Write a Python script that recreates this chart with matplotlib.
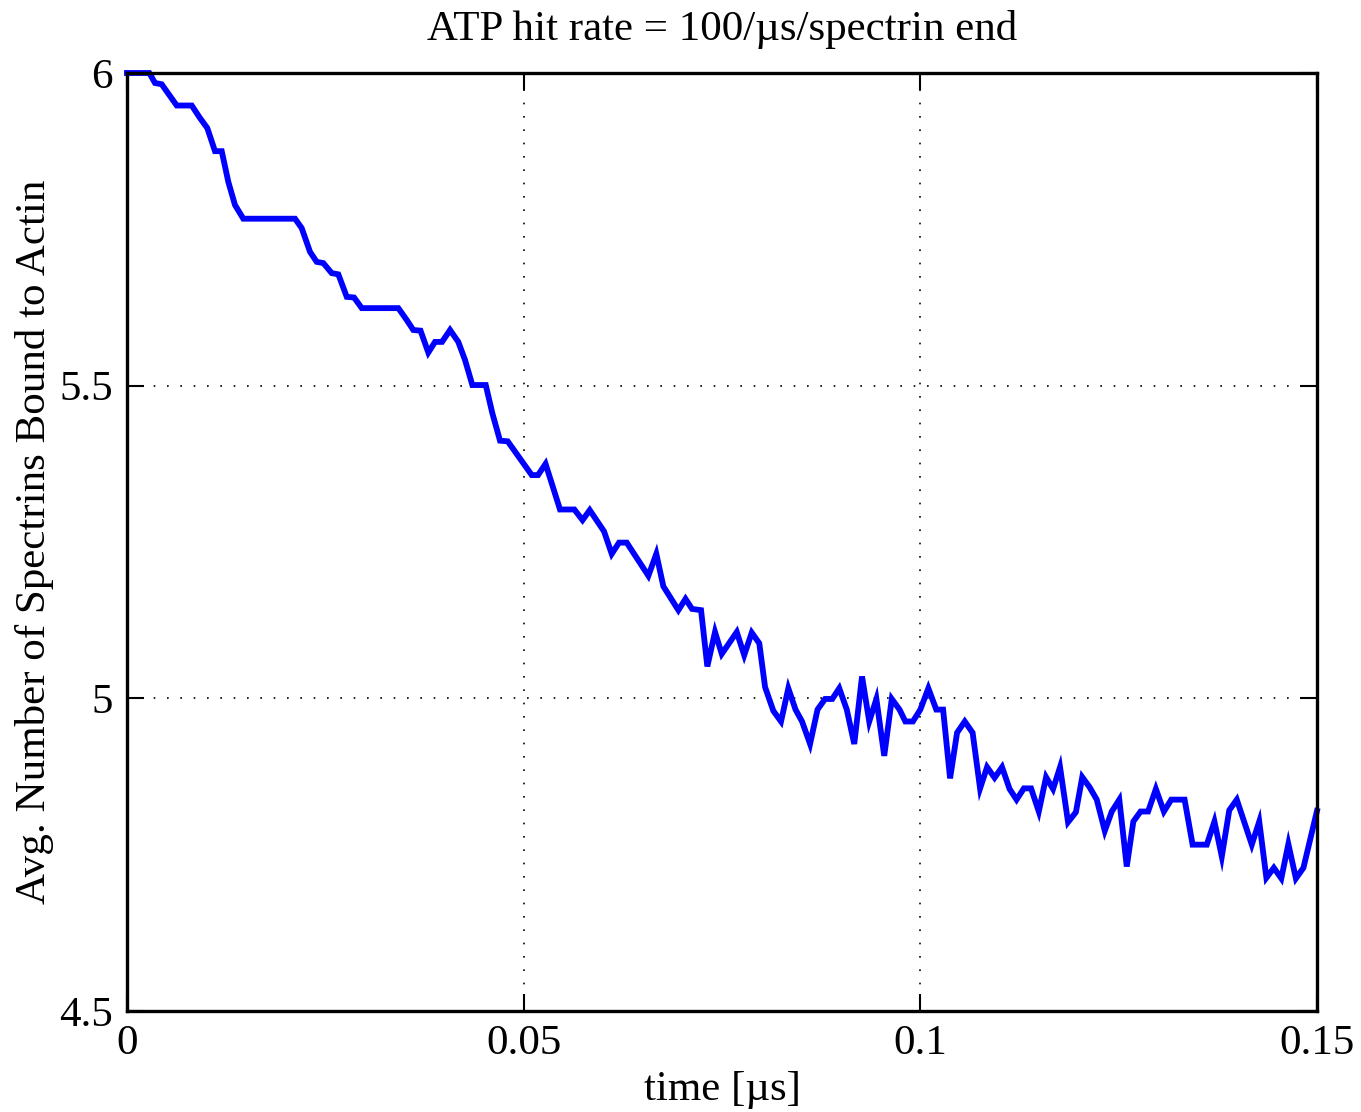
import matplotlib
matplotlib.use("Agg")
import matplotlib.pyplot as plt
import numpy as np

# time [us] and average number of bound spectrins
time_us = [0.0, 0.00281, 0.00353, 0.00437, 0.00627, 0.00816, 0.00920, 0.01012,
           0.01109, 0.01194, 0.01277, 0.01361, 0.01466, 0.02118, 0.02202, 0.02307,
           0.02391, 0.02475, 0.02580, 0.02664, 0.02770, 0.02862, 0.02959, 0.03420,
           0.03526, 0.03609, 0.03700, 0.03798, 0.03883, 0.03971, 0.04072, 0.04176,
           0.04261, 0.04353, 0.04522, 0.04605, 0.04702, 0.04799, 0.05102, 0.05181,
           0.05276, 0.05458, 0.05639, 0.05742, 0.05833, 0.06013, 0.06110, 0.06202,
           0.06299, 0.06572, 0.06672, 0.06761, 0.06950, 0.07040, 0.07122, 0.07236,
           0.07315, 0.07412, 0.07497, 0.07686, 0.07780, 0.07875, 0.07970, 0.08043,
           0.08147, 0.08244, 0.08336, 0.08427, 0.08509, 0.08610, 0.08704, 0.08799,
           0.08890, 0.08978, 0.09073, 0.09167, 0.09265, 0.09356, 0.09446, 0.09545,
           0.09640, 0.09738, 0.09811, 0.09906, 0.10000, 0.10101, 0.10201, 0.10287,
           0.10375, 0.10463, 0.10560, 0.10659, 0.10753, 0.10841, 0.10936, 0.11030,
           0.11125, 0.11213, 0.11305, 0.11396, 0.11493, 0.11585, 0.11673, 0.11761,
           0.11862, 0.11961, 0.12041, 0.12133, 0.12224, 0.12325, 0.12413, 0.12508,
           0.12602, 0.12685, 0.12776, 0.12871, 0.12969, 0.13070, 0.13163, 0.13331,
           0.13432, 0.13611, 0.13707, 0.13800, 0.13894, 0.13989, 0.14178, 0.14272,
           0.14362, 0.14456, 0.14550, 0.14639, 0.14734, 0.14829, 0.15]
n_bound = [6.0, 6.0, 5.984, 5.982, 5.948, 5.948, 5.928, 5.912,
           5.875, 5.875, 5.826, 5.789, 5.767, 5.767, 5.752, 5.714,
           5.698, 5.696, 5.680, 5.678, 5.642, 5.641, 5.624, 5.624,
           5.605, 5.589, 5.588, 5.553, 5.570, 5.570, 5.589, 5.570,
           5.541, 5.501, 5.501, 5.456, 5.412, 5.411, 5.357, 5.357,
           5.375, 5.302, 5.302, 5.285, 5.301, 5.267, 5.231, 5.249,
           5.249, 5.196, 5.231, 5.179, 5.141, 5.159, 5.143, 5.141,
           5.051, 5.106, 5.071, 5.106, 5.069, 5.105, 5.088, 5.018,
           4.980, 4.963, 5.016, 4.982, 4.963, 4.927, 4.982, 4.999,
           4.999, 5.016, 4.982, 4.927, 5.035, 4.963, 4.999, 4.908,
           4.999, 4.982, 4.963, 4.963, 4.982, 5.016, 4.982, 4.982,
           4.872, 4.945, 4.963, 4.945, 4.856, 4.890, 4.873, 4.890,
           4.855, 4.838, 4.856, 4.856, 4.819, 4.874, 4.855, 4.890,
           4.802, 4.818, 4.874, 4.858, 4.838, 4.788, 4.819, 4.838,
           4.731, 4.803, 4.819, 4.819, 4.855, 4.819, 4.838, 4.838,
           4.766, 4.766, 4.803, 4.747, 4.821, 4.838, 4.766, 4.803,
           4.713, 4.729, 4.712, 4.767, 4.712, 4.729, 4.820]

x_ticks = [0, 0.05, 0.1, 0.15]
x_ticklabels = ["0", "0.05", "0.1", "0.15"]
y_ticks = [4.5, 5, 5.5, 6]
y_ticklabels = ["4.5", "5", "5.5", "6"]

plt.rcParams['font.family'] = ['Liberation Serif', 'DejaVu Serif']

fig = plt.figure(figsize=(13.61, 11.12), dpi=100)
ax = fig.add_axes([127 / 1361, 101 / 1112, 1190 / 1361, 938 / 1112])

ax.plot(time_us, n_bound, color=(0, 0, 1), lw=4.2, solid_joinstyle='miter', clip_on=False, zorder=3)

ax.set_xlim(0, 0.15)
ax.set_ylim(4.5, 6)
ax.set_xticks(x_ticks)
ax.set_xticklabels(x_ticklabels)
ax.set_yticks(y_ticks)
ax.set_yticklabels(y_ticklabels)

ax.grid(True, color='black', linestyle=(0, (1, 7)), lw=1.2)
ax.tick_params(direction='in', top=True, right=True, length=12, width=1.5,
               labelsize=31, pad=10)
for s in ax.spines.values():
    s.set_linewidth(2.4)
    s.set_zorder(4)

ax.set_title("ATP hit rate = 100/µs/spectrin end", fontsize=31, pad=24)
ax.set_xlabel("time [µs]", fontsize=31, labelpad=5)
ax.set_ylabel("Avg. Number of Spectrins Bound to Actin", fontsize=31, labelpad=4)

fig.savefig("out.png", dpi=100)
